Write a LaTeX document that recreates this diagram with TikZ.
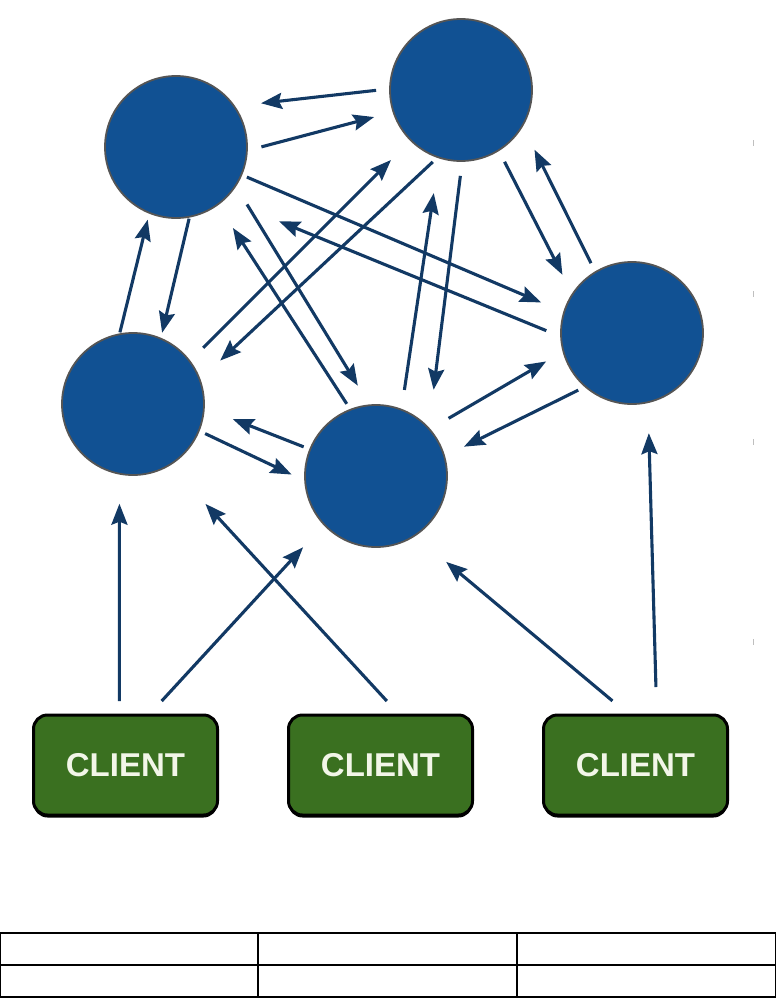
\documentclass[tikz,border=0pt]{standalone}
\usepackage{fontspec}
\newfontfamily\clientfont{Liberation Sans}
\usetikzlibrary{arrows.meta,positioning,shadows}

\definecolor{peerblue}{RGB}{17,81,147}
\definecolor{peerrim}{RGB}{85,85,85}
\definecolor{linkblue}{RGB}{18,57,100}
\definecolor{clientgreen}{RGB}{58,112,32}
\definecolor{clienttext}{RGB}{242,246,232}

\begin{document}
\begin{tikzpicture}[
    x=1pt, y=-1pt,
    peer/.style={
        circle,
        draw=peerrim,
        line width=1.8pt,
        fill=peerblue,
        minimum size=142pt,
        inner sep=0pt,
        outer sep=0pt
    },
    client/.style={
        draw=black,
        line width=3pt,
        rounded corners=14pt,
        fill=clientgreen,
        text=clienttext,
        minimum width=184pt,
        minimum height=100pt,
        inner sep=0pt,
        outer sep=0pt,
        drop shadow={shadow xshift=0pt, shadow yshift=-2.5pt,
            fill=black, opacity=1},
        font=\clientfont\bfseries\fontsize{33}{36}\selectfont
    },
    arrow/.style={
        -{Stealth[length=21pt,width=16pt,inset=3pt]},
        line width=3.1pt,
        draw=linkblue
    },
    cell/.style={
        line width=1.3pt
    }
]

\fill[white] (0,0) rectangle (776,999);
\useasboundingbox (0,0) rectangle (776,999);

% ------------------------------------------------------------------
% Peers
% ------------------------------------------------------------------

\node[peer] (upperleft)  at (176,147) {};
\node[peer] (upper)      at (461,90)  {};
\node[peer] (right)      at (632,333) {};
\node[peer] (lowerleft)  at (133,404) {};
\node[peer] (lower)      at (376,476) {};

% ------------------------------------------------------------------
% Clients
% ------------------------------------------------------------------

\node[client] (clientleft) at (125.5,765) {CLIENT};
\node[client, right=71pt of clientleft] (clientmid) {CLIENT};
\node[client, right=71pt of clientmid] (clientright) {CLIENT};

% ------------------------------------------------------------------
% Peer to peer links
% ------------------------------------------------------------------

\draw[arrow, shorten <=14pt, shorten >=27pt] (upper.179) -- (upperleft.35);
\draw[arrow, shorten <=15pt, shorten >=20pt] (upperleft.357) -- (upper.198);

\draw[arrow, shorten <=6pt, shorten >=25pt] (upperleft.337) -- (right.163);
\draw[arrow, shorten <=16pt, shorten >=59pt] (right.183) -- (upperleft.313);

\draw[arrow, shorten <=22pt, shorten >=23pt] (upperleft.327) -- (lower.95);
\draw[arrow, shorten <=7pt, shorten >=28pt] (lower.111) -- (upperleft.306);

\draw[arrow, shorten <=19pt, shorten >=28pt] (lowerleft.37) -- (upper.225);
\draw[arrow, shorten <=7pt, shorten >=28pt] (upper.251) -- (lowerleft.20);

\draw[arrow, shorten <=20pt, shorten >=36pt] (lower.69) -- (upper.252);
\draw[arrow, shorten <=15pt, shorten >=39pt] (upper.271) -- (lower.42);

\draw[arrow, shorten <=13pt, shorten >=22pt] (upper.302) -- (right.147);
\draw[arrow, shorten <=10pt, shorten >=27pt] (right.121) -- (upper.330);

\draw[arrow, shorten <=2pt, shorten >=6pt] (upperleft.281) -- (lowerleft.67);
\draw[arrow, shorten <=2pt, shorten >=7pt] (lowerleft.101) -- (upperleft.248);

\draw[arrow, shorten <=7pt, shorten >=15pt] (lowerleft.338) -- (lower.184);
\draw[arrow, shorten <=7pt, shorten >=31pt] (lower.158) -- (lowerleft.357);

\draw[arrow, shorten <=22pt, shorten >=20pt] (lower.41) -- (right.195);
\draw[arrow, shorten <=8pt, shorten >=22pt] (right.229) -- (lower.16);

% ------------------------------------------------------------------
% Client requests
% ------------------------------------------------------------------

\draw[arrow, shorten <=14pt, shorten >=30pt] (clientleft.97) -- (lowerleft.259);
\draw[arrow, shorten <=19pt, shorten >=31pt] (clientleft.65) -- (lower.223);
\draw[arrow, shorten <=19pt, shorten >=53pt] (clientmid.69) -- (lowerleft.301);
\draw[arrow, shorten <=22pt, shorten >=41pt] (clientright.97) -- (lower.303);
\draw[arrow, shorten <=28pt, shorten >=31pt] (clientright.67) -- (right.283);

% ------------------------------------------------------------------
% Empty table and margin marks
% ------------------------------------------------------------------

\draw[cell] (0.65,933) rectangle (775.35,997);
\draw[cell] (0,965) -- (776,965);
\foreach \x in {258,517}
    \draw[cell] (\x,933) -- (\x,997);

\foreach \y in {143,294,442,642}
    \draw[black!25, line width=1pt] (753,\y-3) -- (753,\y+3);

\end{tikzpicture}
\end{document}
